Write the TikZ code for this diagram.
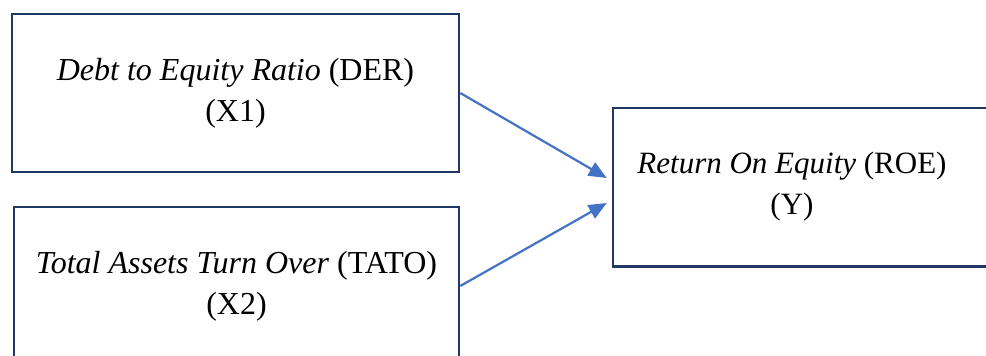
\documentclass[tikz,border=0pt]{standalone}
\usepackage{fontspec}
\setmainfont{Liberation Serif}
\usetikzlibrary{arrows.meta,positioning,calc}
\definecolor{VarNavy}{HTML}{203864}
\definecolor{VarArrow}{HTML}{4472C4}

\begin{document}
\begin{tikzpicture}[x=1pt,y=-1pt]
    \tikzset{v/.style={draw=VarNavy,line width=2.5pt,minimum width=447pt,
      minimum height=158pt,align=center,inner sep=0pt,font=\fontsize{32}{41}\selectfont},
      link/.style={-{Triangle[length=18pt,width=15pt]},VarArrow,line width=2.2pt}}
    \clip (0,0) rectangle (986,356);
    \node[v] (der) at (235.5,93) {\textit{Debt to Equity Ratio} (DER)\\(X1)};
    \node[v,minimum width=445pt] (tato) at (236.5,286) {\textit{Total Assets Turn Over} (TATO)\\(X2)};
    \node[v,draw=none,minimum width=356pt,minimum height=156pt,font=\fontsize{31}{41}\selectfont] (roe) at (792,187) {\textit{Return On Equity} (ROE)\\(Y)};
    \draw[VarNavy,line width=2.5pt] (roe.north west) rectangle ($(roe.south east)+(30,0)$);
    \draw[link] (der.east) -- ($(roe.west)+(-6,-9)$);
    \draw[link] (tato.east) -- ($(roe.west)+(-6,16)$);
  \end{tikzpicture}
\end{document}
